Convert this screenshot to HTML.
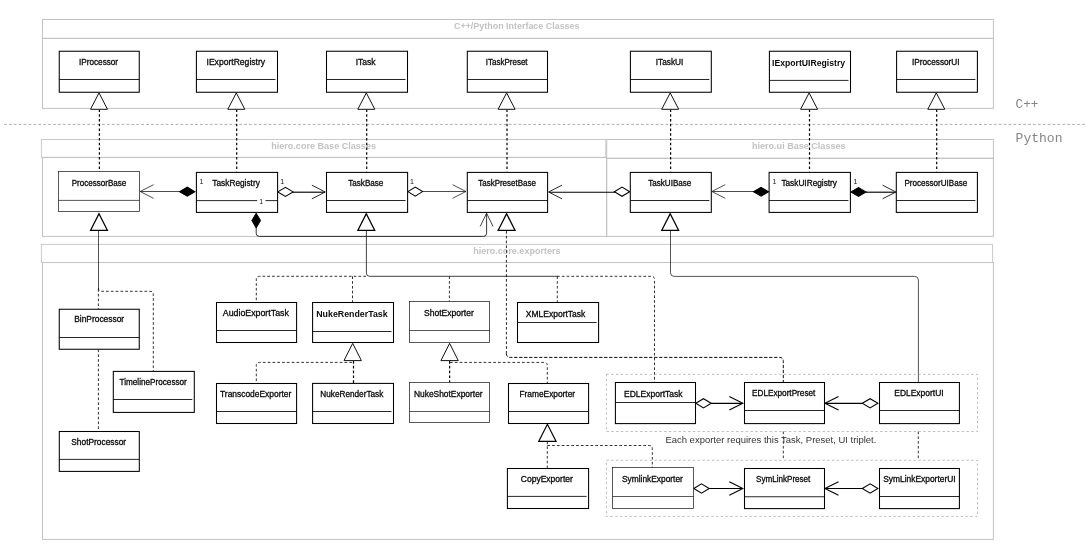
<!DOCTYPE html>
<html>
<head>
<meta charset="utf-8">
<title>Class diagram</title>
<style>
html, body { margin: 0; padding: 0; background: #fff; }
body { width: 1087px; height: 551px; overflow: hidden; font-family: "Liberation Sans", sans-serif; }
svg { display: block; filter: grayscale(1); }
</style>
</head>
<body>
<svg width="1087" height="551" viewBox="0 0 1087 551">
<rect x="0" y="0" width="1087" height="551" fill="#fff"/>
<g opacity="0.999">
<rect x="42.5" y="19.5" width="950.9" height="18.9" fill="none" stroke="#c2c2c2" stroke-width="1.0" />
<rect x="42.5" y="38.4" width="950.9" height="70.0" fill="none" stroke="#c2c2c2" stroke-width="1.0" />
<rect x="41.4" y="139.5" width="564.4" height="17.9" fill="none" stroke="#cacaca" stroke-width="1.0" />
<rect x="42.5" y="157.4" width="564.1" height="79.0" fill="none" stroke="#c2c2c2" stroke-width="1.0" />
<rect x="606.7" y="139.5" width="386.7" height="18.8" fill="none" stroke="#c2c2c2" stroke-width="1.0" />
<rect x="606.7" y="158.3" width="386.7" height="78.1" fill="none" stroke="#c2c2c2" stroke-width="1.0" />
<rect x="41.4" y="244.4" width="951.2" height="18.1" fill="none" stroke="#cacaca" stroke-width="1.0" />
<rect x="42.5" y="262.5" width="950.9" height="276.9" fill="none" stroke="#c2c2c2" stroke-width="1.0" />
<text x="454" y="28.5" font-family="'Liberation Sans', sans-serif" font-size="9" font-weight="bold" fill="#c2c2c2" textLength="125.5" lengthAdjust="spacingAndGlyphs" >C++/Python Interface Classes</text>
<text x="271.2" y="149.2" font-family="'Liberation Sans', sans-serif" font-size="9" font-weight="bold" fill="#c2c2c2" textLength="104.8" lengthAdjust="spacingAndGlyphs" >hiero.core Base Classes</text>
<text x="752" y="149.2" font-family="'Liberation Sans', sans-serif" font-size="9" font-weight="bold" fill="#c2c2c2" textLength="93.5" lengthAdjust="spacingAndGlyphs" >hiero.ui Base Classes</text>
<text x="473.25" y="254.2" font-family="'Liberation Sans', sans-serif" font-size="9" font-weight="bold" fill="#c2c2c2" textLength="87.25" lengthAdjust="spacingAndGlyphs" >hiero.core.exporters</text>
<line x1="4.0" y1="124.4" x2="1086" y2="124.4" stroke="#999" stroke-width="0.8" stroke-dasharray="2.8 2.1" />
<text x="1015.6" y="108.3" font-family="'Liberation Mono', sans-serif" font-size="12" font-weight="normal" fill="#858585" textLength="22.8" lengthAdjust="spacingAndGlyphs" >C++</text>
<text x="1015.6" y="141.8" font-family="'Liberation Mono', sans-serif" font-size="12" font-weight="normal" fill="#858585" textLength="46.9" lengthAdjust="spacingAndGlyphs" >Python</text>
<line x1="99.4" y1="109.6" x2="99.4" y2="171.5" stroke="#000" stroke-width="1.2" stroke-dasharray="2.4 2.35" />
<path d="M99 92.9 L107.5 109.3 L90.5 109.3 Z" fill="#fff" stroke="#111" stroke-width="1.0" />
<line x1="236.70000000000002" y1="109.6" x2="236.70000000000002" y2="171.5" stroke="#000" stroke-width="1.2" stroke-dasharray="2.4 2.35" />
<path d="M236.3 92.9 L244.8 109.3 L227.8 109.3 Z" fill="#fff" stroke="#111" stroke-width="1.0" />
<line x1="366.7" y1="109.6" x2="366.7" y2="171.5" stroke="#000" stroke-width="1.2" stroke-dasharray="2.4 2.35" />
<path d="M366.3 92.9 L374.8 109.3 L357.8 109.3 Z" fill="#fff" stroke="#111" stroke-width="1.0" />
<line x1="507.0" y1="109.6" x2="507.0" y2="171.5" stroke="#000" stroke-width="1.2" stroke-dasharray="2.4 2.35" />
<path d="M506.6 92.9 L515.1 109.3 L498.1 109.3 Z" fill="#fff" stroke="#111" stroke-width="1.0" />
<line x1="670.6" y1="109.6" x2="670.6" y2="171.5" stroke="#000" stroke-width="1.2" stroke-dasharray="2.4 2.35" />
<path d="M670.2 92.9 L678.7 109.3 L661.7 109.3 Z" fill="#fff" stroke="#111" stroke-width="1.0" />
<line x1="809.5" y1="109.6" x2="809.5" y2="171.5" stroke="#000" stroke-width="1.2" stroke-dasharray="2.4 2.35" />
<path d="M809.1 92.9 L817.6 109.3 L800.6 109.3 Z" fill="#fff" stroke="#111" stroke-width="1.0" />
<line x1="936.6999999999999" y1="109.6" x2="936.6999999999999" y2="171.5" stroke="#000" stroke-width="1.2" stroke-dasharray="2.4 2.35" />
<path d="M936.3 92.9 L944.8 109.3 L927.8 109.3 Z" fill="#fff" stroke="#111" stroke-width="1.0" />
<line x1="140.5" y1="191.5" x2="180" y2="191.5" stroke="#111" stroke-width="0.75" />
<path d="M153.5 184.7 L140.2 191.5 L153.5 198.3" fill="none" stroke="#111" stroke-width="0.75" />
<path d="M179.6 191.7 L187.25 187.2 L194.9 191.7 L187.25 196.2 Z" fill="#000" stroke="#000" stroke-width="1.05" />
<line x1="293" y1="192.2" x2="325" y2="192.2" stroke="#000" stroke-width="1.15" />
<path d="M311.9 185.2 L325.2 192.0 L311.9 198.8" fill="none" stroke="#111" stroke-width="0.9" />
<path d="M277.8 191.89999999999998 L285.45000000000005 187.29999999999998 L293.1 191.89999999999998 L285.45000000000005 196.49999999999997 Z" fill="#fff" stroke="#000" stroke-width="1.05" />
<line x1="422" y1="191.5" x2="465.5" y2="191.5" stroke="#111" stroke-width="0.75" />
<path d="M452.59999999999997 184.7 L465.9 191.5 L452.59999999999997 198.3" fill="none" stroke="#111" stroke-width="0.75" />
<path d="M407.9 191.6 L415.25 187.0 L422.6 191.6 L415.25 196.2 Z" fill="#fff" stroke="#000" stroke-width="1.05" />
<line x1="549" y1="192.2" x2="615" y2="192.2" stroke="#000" stroke-width="1.15" />
<path d="M561.9 185.2 L548.6 192.0 L561.9 198.8" fill="none" stroke="#111" stroke-width="0.9" />
<path d="M614.4 191.7 L622.05 187.1 L629.7 191.7 L622.05 196.29999999999998 Z" fill="#fff" stroke="#000" stroke-width="1.05" />
<line x1="712.5" y1="191.5" x2="754" y2="191.5" stroke="#111" stroke-width="0.75" />
<path d="M725.1999999999999 184.7 L711.9 191.5 L725.1999999999999 198.3" fill="none" stroke="#111" stroke-width="0.75" />
<path d="M753.5 191.7 L761.05 187.29999999999998 L768.6 191.7 L761.05 196.1 Z" fill="#000" stroke="#000" stroke-width="1.05" />
<line x1="866" y1="192.2" x2="895.6" y2="192.2" stroke="#000" stroke-width="1.15" />
<path d="M882.6 185.2 L895.9 192.0 L882.6 198.8" fill="none" stroke="#111" stroke-width="0.9" />
<path d="M851.0 191.89999999999998 L858.5 187.49999999999997 L866.0 191.89999999999998 L858.5 196.29999999999998 Z" fill="#000" stroke="#000" stroke-width="1.05" />
<path d="M256.2 227 L256.2 233.3 Q256.2 236.4 259.3 236.4 L483.5 236.4 Q486.6 236.4 486.6 233.3 L486.6 213.5" fill="none" stroke="#111" stroke-width="0.85" />
<path d="M480.2 226.4 L486.6 213.2 L493 226.4" fill="none" stroke="#111" stroke-width="0.8" />
<path d="M256.2 213.2 L260.6 220.5 L256.2 228 L251.8 220.5 Z" fill="#000" stroke="#000" stroke-width="0.9" />
<path d="M99 213.8 L107.4 230.3 L90.6 230.3 Z" fill="#fff" stroke="#000" stroke-width="1.3" />
<path d="M366.3 213.8 L374.7 230.3 L357.90000000000003 230.3 Z" fill="#fff" stroke="#000" stroke-width="1.3" />
<path d="M506.6 213.8 L515.0 230.3 L498.20000000000005 230.3 Z" fill="#fff" stroke="#000" stroke-width="1.3" />
<path d="M670.2 213.8 L678.6 230.3 L661.8000000000001 230.3 Z" fill="#fff" stroke="#000" stroke-width="1.3" />
<line x1="98.5" y1="231" x2="98.5" y2="289" stroke="#1a1a1a" stroke-width="0.75" />
<line x1="98.4" y1="289" x2="98.4" y2="309.3" stroke="#000" stroke-width="0.8" stroke-dasharray="2.7 2.1" />
<path d="M98.4 288 Q98.4 291.3 101.5 291.3 L150.2 291.3 Q153.3 291.3 153.3 294.4 L153.3 371.3" fill="none" stroke="#000" stroke-width="0.8" stroke-dasharray="2.7 2.1" />
<line x1="98.4" y1="349.5" x2="98.4" y2="431.3" stroke="#000" stroke-width="0.8" stroke-dasharray="2.7 2.1" />
<path d="M366.4 230.8 L366.4 273.2 Q366.4 276.3 369.5 276.3 L557.5 276.3" fill="none" stroke="#111" stroke-width="0.8" />
<path d="M366 276.3 L259.4 276.3 Q256.3 276.3 256.3 279.4 L256.3 302.5" fill="none" stroke="#000" stroke-width="0.8" stroke-dasharray="2.7 2.1" />
<line x1="352.5" y1="276.3" x2="352.5" y2="302.5" stroke="#000" stroke-width="0.8" stroke-dasharray="2.7 2.1" />
<line x1="449.4" y1="276.3" x2="449.4" y2="301.5" stroke="#000" stroke-width="0.8" stroke-dasharray="2.7 2.1" />
<line x1="557.3" y1="276.3" x2="557.3" y2="302.5" stroke="#000" stroke-width="0.8" stroke-dasharray="2.7 2.1" />
<path d="M557 276.3 L651.4 276.3 Q654.5 276.3 654.5 279.4 L654.5 382" fill="none" stroke="#000" stroke-width="0.8" stroke-dasharray="2.7 2.1" />
<path d="M506.4 231 L506.4 353.9" fill="none" stroke="#000" stroke-width="0.85" stroke-dasharray="2.7 2.1" />
<path d="M506.4 353.5 Q506.4 357.4 510.3 357.4 L779.4 357.4 Q783.3 357.4 783.3 361.3 L783.3 382.5" fill="none" stroke="#000" stroke-width="0.95" stroke-dasharray="3.3 1.7" />
<line x1="783.3" y1="431.5" x2="783.3" y2="460" stroke="#000" stroke-width="0.8" stroke-dasharray="2.7 2.1" />
<path d="M670.5 230.8 L670.5 272.7 Q670.5 276.4 674.2 276.4 L914.7 276.4 Q918.4 276.4 918.4 280.1 L918.4 382.5" fill="none" stroke="#1a1a1a" stroke-width="0.75" />
<line x1="918.3" y1="431.5" x2="918.3" y2="460" stroke="#000" stroke-width="0.8" stroke-dasharray="2.7 2.1" />
<path d="M352.7 343.4 L361.4 360.6 L344.0 360.6 Z" fill="#fff" stroke="#111" stroke-width="1.0" />
<path d="M352 362.4 L259.4 362.4 Q256.3 362.4 256.3 365.5 L256.3 383.5" fill="none" stroke="#000" stroke-width="0.8" stroke-dasharray="2.7 2.1" />
<line x1="353.5" y1="361" x2="353.5" y2="383.4" stroke="#000" stroke-width="1.2" stroke-dasharray="2.7 2.1" />
<path d="M449.6 343.4 L458.3 360.6 L440.90000000000003 360.6 Z" fill="#fff" stroke="#111" stroke-width="1.0" />
<line x1="449.6" y1="361" x2="449.6" y2="382.5" stroke="#000" stroke-width="1.2" stroke-dasharray="2.7 2.1" />
<path d="M450 362.4 L544.2 362.4 Q547.3 362.4 547.3 365.5 L547.3 383.5" fill="none" stroke="#000" stroke-width="0.8" stroke-dasharray="2.7 2.1" />
<path d="M547.4 424.2 L556.1 441.4 L538.7 441.4 Z" fill="#fff" stroke="#000" stroke-width="1.15" />
<line x1="547.3" y1="441.5" x2="547.3" y2="468.3" stroke="#000" stroke-width="0.8" stroke-dasharray="2.7 2.1" />
<path d="M547.3 445.5 L649.2 445.5 Q652.3 445.5 652.3 448.6 L652.3 467.5" fill="none" stroke="#000" stroke-width="0.8" stroke-dasharray="2.7 2.1" />
<rect x="606.4" y="374.4" width="371.1" height="57.1" fill="none" stroke="#a0a0a0" stroke-width="0.7" stroke-dasharray="2.3 2.5"/>
<rect x="606.4" y="460.3" width="371.1" height="56.1" fill="none" stroke="#a0a0a0" stroke-width="0.7" stroke-dasharray="2.3 2.5"/>
<line x1="710.7" y1="403.3" x2="742.4" y2="403.3" stroke="#000" stroke-width="1.15" />
<path d="M729.3 396.55 L742.8 403.3 L729.3 410.05" fill="none" stroke="#000" stroke-width="1.1" />
<path d="M695.8 403.3 L703.5 398.7 L711.2 403.3 L703.5 407.90000000000003 Z" fill="#fff" stroke="#000" stroke-width="1.05" />
<line x1="825.4" y1="403.3" x2="862.8" y2="403.3" stroke="#000" stroke-width="1.15" />
<path d="M838.5 396.55 L825 403.3 L838.5 410.05" fill="none" stroke="#000" stroke-width="1.1" />
<path d="M862.3 403.3 L870.0999999999999 398.7 L877.9 403.3 L870.0999999999999 407.90000000000003 Z" fill="#fff" stroke="#000" stroke-width="1.05" />
<line x1="708.7" y1="488.5" x2="742.4" y2="488.5" stroke="#000" stroke-width="1.15" />
<path d="M729.3 481.75 L742.8 488.5 L729.3 495.25" fill="none" stroke="#000" stroke-width="1.1" />
<path d="M693.8 488.5 L701.5 483.9 L709.2 488.5 L701.5 493.1 Z" fill="#fff" stroke="#000" stroke-width="1.05" />
<line x1="825.4" y1="488.5" x2="862.8" y2="488.5" stroke="#000" stroke-width="1.15" />
<path d="M838.5 481.75 L825 488.5 L838.5 495.25" fill="none" stroke="#000" stroke-width="1.1" />
<path d="M862.3 488.5 L870.0999999999999 483.9 L877.9 488.5 L870.0999999999999 493.1 Z" fill="#fff" stroke="#000" stroke-width="1.05" />
<text x="665.4" y="442.9" font-family="'Liberation Sans', sans-serif" font-size="9.6" font-weight="normal" fill="#333" textLength="211.0" lengthAdjust="spacingAndGlyphs" >Each exporter requires this Task, Preset, UI triplet.</text>
<rect x="59.25" y="51.25" width="80.0" height="41.0" fill="#fff" stroke="#000" stroke-width="1.05" />
<line x1="59.25" y1="79.5" x2="139.25" y2="79.5" stroke="#000" stroke-width="0.85" />
<text x="79" y="64.6" font-family="'Liberation Sans', sans-serif" font-size="8.4" font-weight="normal" fill="#0a0a0a" textLength="39.1" lengthAdjust="spacingAndGlyphs" stroke="#0a0a0a" stroke-width="0.3">IProcessor</text>
<rect x="196.4" y="51.25" width="81.1" height="41.0" fill="#fff" stroke="#000" stroke-width="1.05" />
<line x1="196.4" y1="79.5" x2="275.5" y2="79.5" stroke="#000" stroke-width="0.85" />
<text x="206.5" y="64.6" font-family="'Liberation Sans', sans-serif" font-size="8.4" font-weight="normal" fill="#0a0a0a" textLength="58.6" lengthAdjust="spacingAndGlyphs" stroke="#0a0a0a" stroke-width="0.3">IExportRegistry</text>
<rect x="326.5" y="51.25" width="81.0" height="41.0" fill="#fff" stroke="#000" stroke-width="1.05" />
<line x1="326.5" y1="79.5" x2="405.5" y2="79.5" stroke="#000" stroke-width="0.85" />
<text x="355.75" y="64.6" font-family="'Liberation Sans', sans-serif" font-size="8.4" font-weight="normal" fill="#0a0a0a" textLength="19.85" lengthAdjust="spacingAndGlyphs" stroke="#0a0a0a" stroke-width="0.3">ITask</text>
<rect x="467.3" y="51.25" width="80.2" height="41.0" fill="#fff" stroke="#000" stroke-width="1.05" />
<line x1="467.3" y1="79.5" x2="547.5" y2="79.5" stroke="#000" stroke-width="0.85" />
<text x="485.75" y="64.6" font-family="'Liberation Sans', sans-serif" font-size="8.4" font-weight="normal" fill="#0a0a0a" textLength="41.85" lengthAdjust="spacingAndGlyphs" stroke="#0a0a0a" stroke-width="0.3">ITaskPreset</text>
<rect x="630.4" y="51.25" width="80.9" height="41.0" fill="#fff" stroke="#000" stroke-width="1.05" />
<line x1="630.4" y1="79.5" x2="709.3" y2="79.5" stroke="#000" stroke-width="0.85" />
<text x="655.75" y="64.6" font-family="'Liberation Sans', sans-serif" font-size="8.4" font-weight="normal" fill="#0a0a0a" textLength="27.6" lengthAdjust="spacingAndGlyphs" stroke="#0a0a0a" stroke-width="0.3">ITaskUI</text>
<rect x="769.4" y="51.25" width="81.1" height="41.0" fill="#fff" stroke="#000" stroke-width="1.05" />
<line x1="769.4" y1="80.4" x2="848.5" y2="80.4" stroke="#000" stroke-width="0.85" />
<text x="772" y="65.8" font-family="'Liberation Sans', sans-serif" font-size="8.8" font-weight="bold" fill="#0a0a0a" textLength="73.1" lengthAdjust="spacingAndGlyphs" >IExportUIRegistry</text>
<rect x="896.6" y="51.25" width="80.8" height="41.0" fill="#fff" stroke="#000" stroke-width="1.05" />
<line x1="896.6" y1="79.5" x2="975.4" y2="79.5" stroke="#000" stroke-width="0.85" />
<text x="912" y="64.6" font-family="'Liberation Sans', sans-serif" font-size="8.4" font-weight="normal" fill="#0a0a0a" textLength="47.6" lengthAdjust="spacingAndGlyphs" stroke="#0a0a0a" stroke-width="0.3">IProcessorUI</text>
<rect x="58.5" y="171.5" width="81.0" height="40.0" fill="#fff" stroke="#111" stroke-width="0.7" />
<line x1="58.5" y1="200.4" x2="139.5" y2="200.4" stroke="#111" stroke-width="0.7" />
<text x="71.75" y="185.9" font-family="'Liberation Sans', sans-serif" font-size="8.4" font-weight="normal" fill="#0a0a0a" textLength="54.6" lengthAdjust="spacingAndGlyphs" stroke="#0a0a0a" stroke-width="0.3">ProcessorBase</text>
<rect x="196.4" y="172.4" width="81.2" height="40.0" fill="#fff" stroke="#000" stroke-width="1.05" />
<line x1="196.4" y1="200.6" x2="277.6" y2="200.6" stroke="#000" stroke-width="0.85" />
<text x="212.3" y="185.9" font-family="'Liberation Sans', sans-serif" font-size="8.4" font-weight="normal" fill="#0a0a0a" textLength="47.55" lengthAdjust="spacingAndGlyphs" stroke="#0a0a0a" stroke-width="0.3">TaskRegistry</text>
<rect x="326.5" y="172.4" width="81.1" height="40.0" fill="#fff" stroke="#000" stroke-width="1.05" />
<line x1="326.5" y1="200.5" x2="405.6" y2="200.5" stroke="#000" stroke-width="0.85" />
<text x="348.25" y="185.9" font-family="'Liberation Sans', sans-serif" font-size="8.4" font-weight="normal" fill="#0a0a0a" textLength="35.1" lengthAdjust="spacingAndGlyphs" stroke="#0a0a0a" stroke-width="0.3">TaskBase</text>
<rect x="467.3" y="172.4" width="80.3" height="40.0" fill="#fff" stroke="#000" stroke-width="1.05" />
<line x1="467.3" y1="200.5" x2="547.6" y2="200.5" stroke="#000" stroke-width="0.85" />
<text x="478.25" y="185.9" font-family="'Liberation Sans', sans-serif" font-size="8.4" font-weight="normal" fill="#0a0a0a" textLength="57.6" lengthAdjust="spacingAndGlyphs" stroke="#0a0a0a" stroke-width="0.3">TaskPresetBase</text>
<rect x="630.3" y="172.4" width="81.0" height="40.0" fill="#fff" stroke="#000" stroke-width="1.05" />
<line x1="630.3" y1="200.5" x2="709.3" y2="200.5" stroke="#000" stroke-width="0.85" />
<text x="648.25" y="185.9" font-family="'Liberation Sans', sans-serif" font-size="8.4" font-weight="normal" fill="#0a0a0a" textLength="43.1" lengthAdjust="spacingAndGlyphs" stroke="#0a0a0a" stroke-width="0.3">TaskUIBase</text>
<rect x="769.1" y="172.4" width="81.3" height="40.0" fill="#fff" stroke="#000" stroke-width="1.05" />
<line x1="769.1" y1="200.5" x2="848.4" y2="200.5" stroke="#000" stroke-width="0.85" />
<text x="781.4" y="185.9" font-family="'Liberation Sans', sans-serif" font-size="8.4" font-weight="normal" fill="#0a0a0a" textLength="55.6" lengthAdjust="spacingAndGlyphs" stroke="#0a0a0a" stroke-width="0.3">TaskUIRegistry</text>
<rect x="896.3" y="172.4" width="81.1" height="40.0" fill="#fff" stroke="#000" stroke-width="1.05" />
<line x1="896.3" y1="200.5" x2="975.4" y2="200.5" stroke="#000" stroke-width="0.85" />
<text x="904.4" y="185.9" font-family="'Liberation Sans', sans-serif" font-size="8.4" font-weight="normal" fill="#0a0a0a" textLength="62.8" lengthAdjust="spacingAndGlyphs" stroke="#0a0a0a" stroke-width="0.3">ProcessorUIBase</text>
<rect x="59.25" y="309.25" width="80.0" height="40.0" fill="#fff" stroke="#000" stroke-width="1.05" />
<line x1="59.25" y1="337.5" x2="139.25" y2="337.5" stroke="#000" stroke-width="0.85" />
<text x="74.25" y="322.20000000000005" font-family="'Liberation Sans', sans-serif" font-size="8.4" font-weight="normal" fill="#0a0a0a" textLength="49.85" lengthAdjust="spacingAndGlyphs" stroke="#0a0a0a" stroke-width="0.3">BinProcessor</text>
<rect x="113.3" y="371.4" width="81.0" height="41.0" fill="#fff" stroke="#000" stroke-width="1.05" />
<line x1="113.3" y1="399.5" x2="192.3" y2="399.5" stroke="#000" stroke-width="0.85" />
<text x="119.5" y="384.8" font-family="'Liberation Sans', sans-serif" font-size="8.4" font-weight="normal" fill="#0a0a0a" textLength="67.35" lengthAdjust="spacingAndGlyphs" stroke="#0a0a0a" stroke-width="0.3">TimelineProcessor</text>
<rect x="59.3" y="431.5" width="80.0" height="39.9" fill="#fff" stroke="#000" stroke-width="1.05" />
<line x1="59.3" y1="459.4" x2="139.3" y2="459.4" stroke="#000" stroke-width="0.85" />
<text x="71.25" y="445.20000000000005" font-family="'Liberation Sans', sans-serif" font-size="8.4" font-weight="normal" fill="#0a0a0a" textLength="54.85" lengthAdjust="spacingAndGlyphs" stroke="#0a0a0a" stroke-width="0.3">ShotProcessor</text>
<rect x="216.5" y="302.5" width="80.1" height="40.0" fill="#fff" stroke="#000" stroke-width="1.05" />
<line x1="216.5" y1="330.5" x2="296.6" y2="330.5" stroke="#000" stroke-width="0.85" />
<text x="222.75" y="316.20000000000005" font-family="'Liberation Sans', sans-serif" font-size="8.4" font-weight="normal" fill="#0a0a0a" textLength="66.1" lengthAdjust="spacingAndGlyphs" stroke="#0a0a0a" stroke-width="0.3">AudioExportTask</text>
<rect x="312.6" y="302.5" width="80.9" height="40.0" fill="#fff" stroke="#000" stroke-width="1.05" />
<line x1="312.6" y1="331.5" x2="391.5" y2="331.5" stroke="#000" stroke-width="0.85" />
<text x="316.25" y="316.90000000000003" font-family="'Liberation Sans', sans-serif" font-size="8.8" font-weight="bold" fill="#0a0a0a" textLength="71.35" lengthAdjust="spacingAndGlyphs" >NukeRenderTask</text>
<rect x="409.5" y="301.5" width="80.0" height="41.0" fill="#fff" stroke="#111" stroke-width="0.7" />
<line x1="409.5" y1="330.5" x2="489.5" y2="330.5" stroke="#111" stroke-width="0.7" />
<text x="424" y="316.20000000000005" font-family="'Liberation Sans', sans-serif" font-size="8.4" font-weight="normal" fill="#0a0a0a" textLength="49.85" lengthAdjust="spacingAndGlyphs" stroke="#0a0a0a" stroke-width="0.3">ShotExporter</text>
<rect x="517.5" y="302.5" width="81.1" height="40.0" fill="#fff" stroke="#000" stroke-width="1.05" />
<line x1="517.5" y1="322.5" x2="596.6" y2="322.5" stroke="#000" stroke-width="0.85" />
<text x="525.75" y="316.90000000000003" font-family="'Liberation Sans', sans-serif" font-size="8.4" font-weight="normal" fill="#0a0a0a" textLength="59.6" lengthAdjust="spacingAndGlyphs" stroke="#0a0a0a" stroke-width="0.3">XMLExportTask</text>
<rect x="216.5" y="383.5" width="80.1" height="40.0" fill="#fff" stroke="#000" stroke-width="1.05" />
<line x1="216.5" y1="411.5" x2="296.6" y2="411.5" stroke="#000" stroke-width="0.85" />
<text x="220" y="397.40000000000003" font-family="'Liberation Sans', sans-serif" font-size="8.4" font-weight="normal" fill="#0a0a0a" textLength="71.35" lengthAdjust="spacingAndGlyphs" stroke="#0a0a0a" stroke-width="0.3">TranscodeExporter</text>
<rect x="312.6" y="383.4" width="80.9" height="40.1" fill="#fff" stroke="#000" stroke-width="1.05" />
<line x1="312.6" y1="411.5" x2="391.5" y2="411.5" stroke="#000" stroke-width="0.85" />
<text x="320.25" y="397.40000000000003" font-family="'Liberation Sans', sans-serif" font-size="8.4" font-weight="normal" fill="#0a0a0a" textLength="63.1" lengthAdjust="spacingAndGlyphs" stroke="#0a0a0a" stroke-width="0.3">NukeRenderTask</text>
<rect x="409.5" y="382.5" width="80.0" height="40.0" fill="#fff" stroke="#111" stroke-width="0.7" />
<line x1="409.5" y1="411.5" x2="489.5" y2="411.5" stroke="#111" stroke-width="0.7" />
<text x="414" y="397.40000000000003" font-family="'Liberation Sans', sans-serif" font-size="8.4" font-weight="normal" fill="#0a0a0a" textLength="68.6" lengthAdjust="spacingAndGlyphs" stroke="#0a0a0a" stroke-width="0.3">NukeShotExporter</text>
<rect x="508.5" y="383.5" width="80.1" height="40.0" fill="#fff" stroke="#000" stroke-width="1.05" />
<line x1="508.5" y1="411.5" x2="588.6" y2="411.5" stroke="#000" stroke-width="0.85" />
<text x="519.5" y="397.40000000000003" font-family="'Liberation Sans', sans-serif" font-size="8.4" font-weight="normal" fill="#0a0a0a" textLength="55.6" lengthAdjust="spacingAndGlyphs" stroke="#0a0a0a" stroke-width="0.3">FrameExporter</text>
<rect x="507.4" y="468.5" width="81.2" height="40.0" fill="#fff" stroke="#000" stroke-width="1.05" />
<line x1="507.4" y1="496.4" x2="586.6" y2="496.4" stroke="#000" stroke-width="0.85" />
<text x="520.75" y="482.20000000000005" font-family="'Liberation Sans', sans-serif" font-size="8.4" font-weight="normal" fill="#0a0a0a" textLength="52.1" lengthAdjust="spacingAndGlyphs" stroke="#0a0a0a" stroke-width="0.3">CopyExporter</text>
<rect x="615.4" y="382.5" width="80.1" height="41.1" fill="#fff" stroke="#000" stroke-width="1.05" />
<line x1="615.4" y1="402.5" x2="695.5" y2="402.5" stroke="#000" stroke-width="0.85" />
<text x="624" y="397.0" font-family="'Liberation Sans', sans-serif" font-size="8.4" font-weight="normal" fill="#0a0a0a" textLength="58.6" lengthAdjust="spacingAndGlyphs" stroke="#0a0a0a" stroke-width="0.3">EDLExportTask</text>
<rect x="744.5" y="382.5" width="80.0" height="41.1" fill="#fff" stroke="#000" stroke-width="1.05" />
<line x1="744.5" y1="410.5" x2="824.5" y2="410.5" stroke="#000" stroke-width="0.85" />
<text x="752" y="396.0" font-family="'Liberation Sans', sans-serif" font-size="8.4" font-weight="normal" fill="#0a0a0a" textLength="63.35" lengthAdjust="spacingAndGlyphs" stroke="#0a0a0a" stroke-width="0.3">EDLExportPreset</text>
<rect x="879.5" y="382.5" width="79.9" height="41.1" fill="#fff" stroke="#000" stroke-width="1.05" />
<line x1="879.5" y1="410.5" x2="959.4" y2="410.5" stroke="#000" stroke-width="0.85" />
<text x="894.3" y="396.0" font-family="'Liberation Sans', sans-serif" font-size="8.4" font-weight="normal" fill="#0a0a0a" textLength="49.3" lengthAdjust="spacingAndGlyphs" stroke="#0a0a0a" stroke-width="0.3">EDLExportUI</text>
<rect x="612.5" y="467.5" width="81.0" height="41.0" fill="#fff" stroke="#111" stroke-width="0.7" />
<line x1="612.5" y1="496.5" x2="693.5" y2="496.5" stroke="#111" stroke-width="0.7" />
<text x="622" y="482.1" font-family="'Liberation Sans', sans-serif" font-size="8.4" font-weight="normal" fill="#0a0a0a" textLength="60.85" lengthAdjust="spacingAndGlyphs" stroke="#0a0a0a" stroke-width="0.3">SymlinkExporter</text>
<rect x="744.5" y="468.5" width="80.0" height="40.1" fill="#fff" stroke="#000" stroke-width="1.05" />
<line x1="744.5" y1="496.75" x2="824.5" y2="496.75" stroke="#000" stroke-width="0.85" />
<text x="756" y="482.20000000000005" font-family="'Liberation Sans', sans-serif" font-size="8.4" font-weight="normal" fill="#0a0a0a" textLength="54.35" lengthAdjust="spacingAndGlyphs" stroke="#0a0a0a" stroke-width="0.3">SymLinkPreset</text>
<rect x="879.5" y="468.5" width="79.9" height="40.1" fill="#fff" stroke="#000" stroke-width="1.05" />
<line x1="879.5" y1="496.5" x2="959.4" y2="496.5" stroke="#000" stroke-width="0.85" />
<text x="883.25" y="482.1" font-family="'Liberation Sans', sans-serif" font-size="8.4" font-weight="normal" fill="#0a0a0a" textLength="72.35" lengthAdjust="spacingAndGlyphs" stroke="#0a0a0a" stroke-width="0.3">SymLinkExporterUI</text>
<text x="199.6" y="183.8" font-family="'Liberation Sans', sans-serif" font-size="7" font-weight="normal" fill="#111" >1</text>
<text x="280.3" y="183.8" font-family="'Liberation Sans', sans-serif" font-size="7" font-weight="normal" fill="#111" >1</text>
<text x="410" y="183.8" font-family="'Liberation Sans', sans-serif" font-size="7" font-weight="normal" fill="#111" >1</text>
<text x="772.4" y="183.8" font-family="'Liberation Sans', sans-serif" font-size="7" font-weight="normal" fill="#111" >1</text>
<text x="853.4" y="183.8" font-family="'Liberation Sans', sans-serif" font-size="7" font-weight="normal" fill="#111" >1</text>
<rect x="257.2" y="197" width="8.3" height="7.5" fill="#fff"/>
<text x="259.3" y="203.8" font-family="'Liberation Sans', sans-serif" font-size="7" font-weight="normal" fill="#111" >1</text>
</g>
</svg>
</body>
</html>
